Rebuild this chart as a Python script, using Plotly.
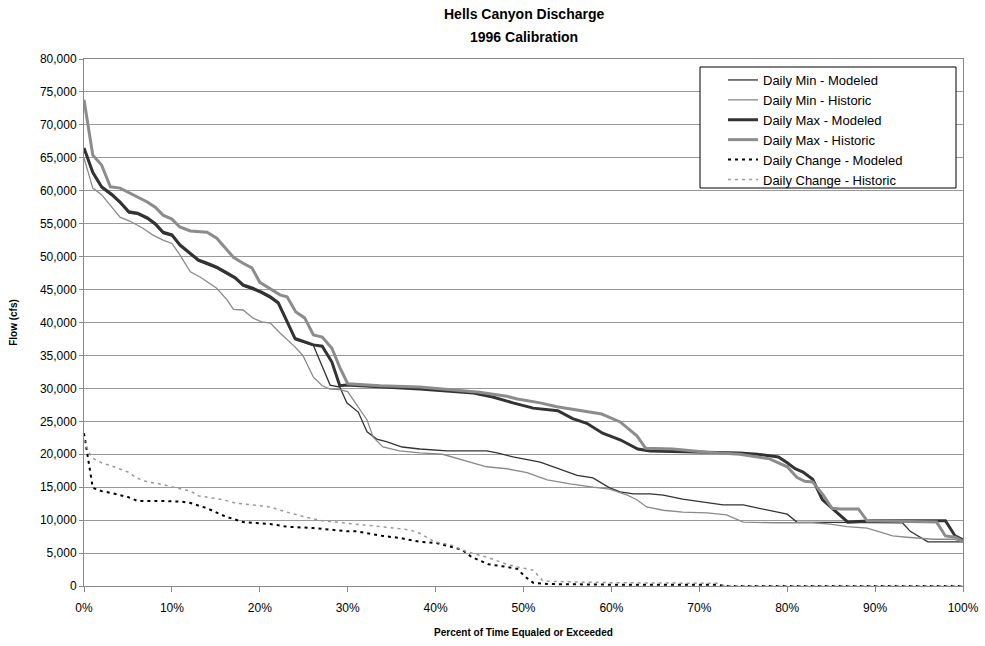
import plotly.graph_objects as go

# Values in thousands of cfs, x in percent of time equaled or exceeded
min_mod_x = [0,1,2,3.2,4.1,5.1,6.1,7.2,8.1,9,10,10.9,12.1,13,14,15.1,16.3,17.2,18.1,19.2,20.2,21.2,22.1,23.1,24,26.1,28,29.1,29.9,31.2,32.2,33.3,34.4,36.2,38.2,41.3,45.8,47,48.8,51.9,54.2,56.1,57.9,59.8,61,62.5,64.4,65.9,68.1,70.9,72.7,75,77.2,80,81.1,82.9,89.8,93.1,94,94.8,96,100]
min_mod_y = [66.2,62.6,60.4,59.2,58.1,56.6,56.4,55.7,54.8,53.5,53.1,51.6,50.3,49.3,48.8,48.2,47.3,46.6,45.5,45.0,44.4,43.7,42.8,39.9,37.4,36.5,30.5,30.2,27.8,26.4,23.4,22.3,21.9,21.1,20.8,20.5,20.5,20.2,19.6,18.8,17.7,16.8,16.4,14.9,14.3,14.0,14.0,13.8,13.2,12.6,12.3,12.3,11.7,10.9,9.7,9.7,9.7,9.6,8.3,7.7,6.7,6.7]

min_his_x = [0,1,2,3,4.1,5.2,6.7,7.8,9,10,10.7,12.1,13.2,15.1,16.3,17,18.1,19.2,20.2,21.2,22.3,24,24.9,26.1,27.1,28,29.1,30,31,32.2,32.9,34,35.9,38.2,40.8,42.4,44.3,45.8,48.1,50.4,52.7,54.2,55.3,57.9,59.8,61.8,62.9,64,65.9,68.1,70.9,73.1,75,78.4,82.9,84.9,86.8,89.1,90.6,92,93.6,96.6,98.9,100]
min_his_y = [65.0,60.4,59.4,57.8,56.0,55.4,54.3,53.3,52.5,52.0,50.7,47.7,46.9,45.2,43.4,42.0,41.9,40.7,40.1,39.9,38.4,36.3,35.0,31.7,30.4,29.9,29.8,29.5,27.5,25.2,22.6,21.1,20.5,20.2,20.0,19.4,18.7,18.1,17.8,17.2,16.1,15.7,15.5,15.0,14.7,13.8,13.1,12.0,11.5,11.2,11.1,10.8,9.7,9.6,9.6,9.4,9.0,8.8,8.2,7.6,7.4,7.1,7.1,6.7]

max_mod_x = [0,1,2,3.2,4.1,5.1,6.1,7.2,8.1,9,10,10.9,12.1,13,14,15.1,16.3,17.2,18.1,19.2,20.2,21.2,22.1,23.1,24,26.1,27.1,28.2,29.1,29.9,33.7,38.2,44.3,46.5,48.8,51.1,53.9,55.6,57.2,59,61,63,64.4,70.9,74.6,76.6,79,80,80.9,81.8,82.9,84,85.1,86,86.9,89.8,98,99.1,100]
max_mod_y = [66.5,62.8,60.6,59.4,58.3,56.8,56.6,55.9,55.0,53.7,53.3,51.8,50.5,49.5,49.0,48.4,47.5,46.8,45.7,45.2,44.6,43.9,43.0,40.1,37.6,36.6,36.4,34.0,30.4,30.5,30.2,29.9,29.3,28.7,27.8,27.0,26.6,25.4,24.7,23.2,22.2,20.8,20.5,20.3,20.2,20.0,19.6,18.7,17.8,17.3,16.2,13.1,11.8,10.8,9.7,9.9,9.9,7.6,7.0]

max_his_x = [0,1,2,3,4.1,5.6,7.2,8.1,9,10,10.9,12.1,14,15.1,16,17,18.1,19.1,20,21.4,22.3,23.1,24.1,25.1,26.1,27.1,28.2,29.1,30,33.7,38.2,45,48.1,49.3,51.9,53.8,56.8,58.9,61,62.9,63.9,67,70.9,74.6,78,80,81.1,82,82.9,84.1,85.1,86,88.1,89.1,97,98,99.1,100]
max_his_y = [73.8,65.4,63.9,60.6,60.4,59.4,58.3,57.5,56.3,55.7,54.5,53.9,53.7,52.8,51.5,49.9,49.0,48.3,46.1,44.9,44.2,43.9,41.6,40.7,38.1,37.8,36.1,33.2,30.7,30.4,30.2,29.4,28.8,28.4,27.8,27.2,26.6,26.1,24.9,22.8,20.9,20.8,20.3,20.0,19.3,18.1,16.5,15.9,15.8,13.8,11.8,11.7,11.7,9.9,9.7,7.6,7.4,6.8]

chg_mod_x = [0,0.5,1,2,3.2,5,6.1,9,11.1,12.1,14,16,17,18.1,21.2,23.1,26.1,30,31,34,35.9,38.2,40.2,42,43,44.1,46,48.1,49.3,50.2,51.1,52.7,60,72,73,100]
chg_mod_y = [23.2,19.1,14.9,14.4,14.1,13.5,12.9,12.9,12.8,12.6,11.8,10.6,10.2,9.7,9.4,9.0,8.8,8.3,8.3,7.6,7.3,6.7,6.5,5.9,5.5,4.4,3.3,2.9,2.6,1.4,0.5,0.3,0.2,0.2,0,0]

chg_his_x = [0,0.5,1,2,3.2,4.1,5,6,7.2,8.6,10.1,11.1,12.1,13,14.3,15.8,17.2,19.1,21.2,22.3,24.2,25.1,27.1,29.1,31,33.1,35.2,37.1,38.2,39,39.9,41.1,42,43,44.1,46,48.1,49.3,51.1,52.2,53,60,72,73,100]
chg_his_y = [22.2,20.4,19.4,18.7,18.2,17.8,17.3,16.4,15.8,15.5,15.0,14.7,14.4,13.7,13.4,13.1,12.6,12.3,12.0,11.5,10.8,10.5,9.9,9.6,9.4,9.1,8.8,8.5,8.0,7.4,6.7,6.4,6.1,5.5,5.0,4.3,3.3,2.9,2.4,0.8,0.7,0.5,0.4,0,0]

title_lines = ["Hells Canyon Discharge", "1996 Calibration"]

series = [
    ("Daily Min - Modeled", min_mod_x, min_mod_y, "#333333", 1.3, "solid"),
    ("Daily Min - Historic", min_his_x, min_his_y, "#8a8a8a", 1.3, "solid"),
    ("Daily Max - Modeled", max_mod_x, max_mod_y, "#333333", 3, "solid"),
    ("Daily Max - Historic", max_his_x, max_his_y, "#8c8c8c", 3, "solid"),
    ("Daily Change - Modeled", chg_mod_x, chg_mod_y, "#000000", 2, "3px,4px"),
    ("Daily Change - Historic", chg_his_x, chg_his_y, "#999999", 1.5, "3px,4px"),
]

fig = go.Figure()
for name, xs, ys, color, w, dash in series:
    fig.add_trace(go.Scatter(
        x=xs, y=[v * 1000 for v in ys], name=name, mode="lines",
        line=dict(color=color, width=w, dash=dash),
    ))

L, R, T, B = 84, 22, 59, 60
PW, PH = 985 - L - R, 646 - T - B

def px_x(p):
    return (p - L) / PW

def px_y(p):
    return (646 - B - p) / PH

annotations = []
for text, ypix in zip(title_lines, [14, 37]):
    annotations.append(dict(
        text="<b>%s</b>" % text, xref="paper", yref="paper",
        x=0.5, y=px_y(ypix), xanchor="center", yanchor="middle",
        showarrow=False, font=dict(size=14, family="Arial, Liberation Sans, sans-serif"),
    ))

fig.update_layout(
    width=985, height=646,
    margin=dict(l=L, r=R, t=T, b=B),
    paper_bgcolor="white", plot_bgcolor="white",
    font=dict(family="Arial, Liberation Sans, sans-serif", color="black", size=12),
    annotations=annotations,
    legend=dict(
        x=px_x(723), y=px_y(65), xanchor="left", yanchor="top",
        bgcolor="rgba(0,0,0,0)", borderwidth=0,
        font=dict(size=13, family="Arial, Liberation Sans, sans-serif"),
        tracegroupgap=0,
    ),
    showlegend=True,
    shapes=[dict(
        type="rect", xref="paper", yref="paper",
        x0=px_x(700), x1=px_x(956), y0=px_y(188), y1=px_y(67),
        line=dict(color="black", width=1), fillcolor="white", layer="above",
    )],
)

fig.update_xaxes(
    range=[0, 100], dtick=10, tick0=0, ticksuffix="%",
    showgrid=False, showline=True, linecolor="#888888", linewidth=1, mirror=True,
    ticks="outside", ticklen=5, tickcolor="#888888", ticklabelstandoff=6,
    title=dict(text="<b>Percent of Time Equaled or Exceeded</b>", font=dict(size=10), standoff=14),
    tickfont=dict(size=12), zeroline=False, automargin=False,
)
fig.update_yaxes(
    range=[0, 80000], dtick=5000, tickformat=",d",
    showgrid=True, gridcolor="#999999", gridwidth=1,
    showline=True, linecolor="#888888", linewidth=1, mirror=True,
    ticks="outside", ticklen=4, tickcolor="#888888",
    title=dict(text="<b>Flow (cfs)</b>", font=dict(size=10), standoff=20),
    tickfont=dict(size=12), zeroline=False, automargin=False,
)

fig.write_html("out.html", config={"displayModeBar": False},
               post_script="document.body.style.margin='0px';")
